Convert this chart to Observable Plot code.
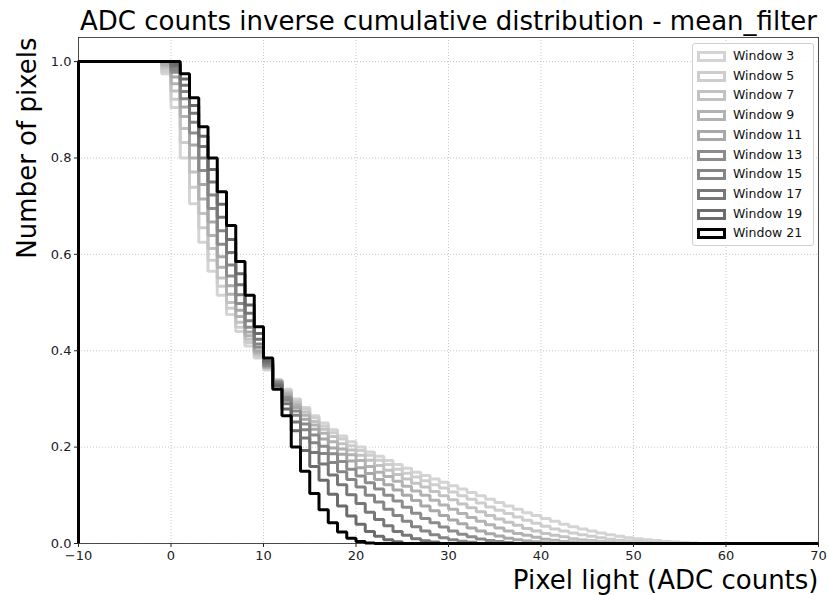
<!DOCTYPE html>
<html>
<head>
<meta charset="utf-8">
<script src="https://cdn.jsdelivr.net/npm/d3@7"></script>
<script src="https://cdn.jsdelivr.net/npm/@observablehq/plot@0.6"></script>
<style>
  html, body { margin: 0; padding: 0; background: #fff; }
  #wrap { position: relative; width: 829px; height: 595px; font-family: "DejaVu Sans", sans-serif; }
  #legend { position: absolute; left: 692px; top: 43px; width: 122px; height: 203px;
            border: 1px solid #d0d0d0; border-radius: 3px; background: rgba(255,255,255,0.85); box-sizing: border-box; }
  .lrow { position: absolute; left: 0; height: 14px; }
  .lpatch { position: absolute; left: 4px; top: 2px; width: 29px; height: 11px; box-sizing: border-box; border-style: solid; border-width: 3px; }
  .ltext { position: absolute; left: 40px; top: -1px; font-size: 12.5px; line-height: 16px; color: #111; white-space: nowrap; }
</style>
</head>
<body>
<div id="wrap"></div>
<script>
// ---- data ----
const titleText = "ADC counts inverse cumulative distribution - mean_filter";
const xLabelText = "Pixel light (ADC counts)";
const yLabelText = "Number of pixels";
const xTicks = [-10, 0, 10, 20, 30, 40, 50, 60, 70];
const yTicks = [0.0, 0.2, 0.4, 0.6, 0.8, 1.0];
const xDomain = [-10, 70];
const yDomain = [0, 1.05];
const firstBin = -1; // each level array starts with the bin [-1, 0); earlier bins are 1.0, later ones 0
const windowSizes = [3, 5, 7, 9, 11, 13, 15, 17, 19, 21];
const greys = ["#d4d4d4", "#cdcdcd", "#c2c2c2", "#b2b2b2", "#a8a8a8", "#8c8c8c", "#858585", "#777777", "#6b6b6b", "#000000"];

const w3 = [0.975, 0.905, 0.80, 0.705, 0.625, 0.565, 0.515, 0.475, 0.44, 0.41, 0.385, 0.36, 0.34, 0.32, 0.30, 0.282, 0.265, 0.25, 0.236, 0.223, 0.211, 0.2, 0.19, 0.181, 0.172, 0.164, 0.156, 0.148, 0.141, 0.134, 0.127, 0.12, 0.113, 0.106, 0.099, 0.092, 0.085, 0.078, 0.071, 0.064, 0.058, 0.052, 0.046, 0.04, 0.035, 0.03, 0.026, 0.022, 0.018, 0.015, 0.012, 0.01, 0.008, 0.006, 0.004, 0.003, 0.002, 0.001];
const w5 = [0.98, 0.922, 0.832, 0.739, 0.655, 0.588, 0.534, 0.488, 0.449, 0.417, 0.388, 0.363, 0.339, 0.318, 0.297, 0.279, 0.261, 0.244, 0.230, 0.217, 0.203, 0.193, 0.183, 0.173, 0.164, 0.154, 0.146, 0.138, 0.130, 0.122, 0.115, 0.107, 0.099, 0.092, 0.084, 0.076, 0.069, 0.062, 0.055, 0.048, 0.042, 0.036, 0.030, 0.026, 0.022, 0.018, 0.015, 0.012, 0.009, 0.007, 0.005, 0.004, 0.002, 0.001];
const w7 = [0.986, 0.939, 0.861, 0.771, 0.685, 0.612, 0.551, 0.50, 0.459, 0.424, 0.392, 0.364, 0.339, 0.315, 0.293, 0.273, 0.253, 0.237, 0.222, 0.207, 0.194, 0.183, 0.173, 0.162, 0.152, 0.143, 0.134, 0.125, 0.117, 0.108, 0.099, 0.091, 0.082, 0.074, 0.066, 0.058, 0.051, 0.044, 0.038, 0.031, 0.026, 0.021, 0.017, 0.014, 0.010, 0.008, 0.006, 0.004, 0.003, 0.001];
const w9 = [0.992, 0.954, 0.886, 0.80, 0.715, 0.639, 0.573, 0.517, 0.471, 0.431, 0.396, 0.365, 0.337, 0.312, 0.288, 0.266, 0.246, 0.229, 0.211, 0.196, 0.184, 0.172, 0.160, 0.148, 0.139, 0.129, 0.119, 0.109, 0.100, 0.090, 0.080, 0.071, 0.062, 0.054, 0.046, 0.039, 0.032, 0.026, 0.021, 0.017, 0.013, 0.009, 0.007, 0.004, 0.003, 0.0015];
const w11 = [0.997, 0.968, 0.906, 0.827, 0.745, 0.667, 0.595, 0.535, 0.484, 0.439, 0.40, 0.367, 0.336, 0.307, 0.282, 0.258, 0.237, 0.217, 0.198, 0.185, 0.171, 0.157, 0.145, 0.133, 0.122, 0.111, 0.100, 0.089, 0.078, 0.068, 0.058, 0.049, 0.041, 0.032, 0.026, 0.020, 0.0155, 0.011, 0.008, 0.005, 0.0034, 0.0017];
const w13 = [1.0, 0.978, 0.923, 0.852, 0.774, 0.695, 0.621, 0.555, 0.498, 0.449, 0.407, 0.369, 0.335, 0.303, 0.275, 0.248, 0.225, 0.202, 0.186, 0.170, 0.154, 0.140, 0.126, 0.113, 0.100, 0.088, 0.075, 0.063, 0.052, 0.043, 0.034, 0.026, 0.019, 0.014, 0.0095, 0.006, 0.004, 0.002];
const w15 = [1.0, 0.983, 0.938, 0.874, 0.80, 0.723, 0.649, 0.578, 0.516, 0.462, 0.414, 0.372, 0.333, 0.297, 0.266, 0.236, 0.209, 0.187, 0.168, 0.149, 0.133, 0.117, 0.100, 0.086, 0.071, 0.058, 0.046, 0.035, 0.026, 0.018, 0.012, 0.008, 0.0045, 0.0024];
const w17 = [1.0, 0.989, 0.951, 0.893, 0.824, 0.75, 0.677, 0.604, 0.537, 0.478, 0.424, 0.375, 0.330, 0.290, 0.252, 0.219, 0.189, 0.165, 0.142, 0.122, 0.101, 0.083, 0.065, 0.050, 0.037, 0.025, 0.017, 0.010, 0.0055, 0.003];
const w19 = [1.0, 0.994, 0.964, 0.909, 0.845, 0.776, 0.704, 0.631, 0.560, 0.495, 0.436, 0.379, 0.327, 0.279, 0.234, 0.193, 0.160, 0.131, 0.102, 0.078, 0.057, 0.040, 0.025, 0.015, 0.008, 0.0035];
const w21 = [1.0, 1.0, 0.975, 0.925, 0.865, 0.80, 0.73, 0.66, 0.585, 0.515, 0.45, 0.385, 0.32, 0.265, 0.20, 0.15, 0.104, 0.07, 0.043, 0.024, 0.011, 0.004, 0.001];
const seriesLevels = [w3, w5, w7, w9, w11, w13, w15, w17, w19, w21];

// ---- build step outlines (histogram "step" style, bins of width 1 from -10 to 70) ----
function stepPoints(levels) {
  const pts = [{x: xDomain[0], y: 0}];
  for (let k = xDomain[0]; k < xDomain[1]; k++) {
    const i = k - firstBin;
    const y = i < 0 ? 1 : (i < levels.length ? levels[i] : 0);
    pts.push({x: k, y});
  }
  pts.push({x: xDomain[1], y: 0});
  return pts;
}

const lineMarks = seriesLevels.map((lv, i) =>
  Plot.line(stepPoints(lv), {
    x: "x", y: "y", curve: "step-after",
    stroke: greys[i], strokeWidth: 3, strokeLinejoin: "miter", strokeLinecap: "butt"
  })
);

const chart = Plot.plot({
  width: 829, height: 595,
  marginLeft: 78, marginRight: 11, marginTop: 37, marginBottom: 52,
  x: {domain: xDomain},
  y: {domain: yDomain},
  style: {fontFamily: "DejaVu Sans", fontSize: "13px", color: "#000", background: "white", overflow: "visible"},
  marks: [
    Plot.gridX(xTicks, {stroke: "#b8b8b8", strokeOpacity: 1, strokeWidth: 0.8, strokeDasharray: "1,2"}),
    Plot.gridY(yTicks, {stroke: "#b8b8b8", strokeOpacity: 1, strokeWidth: 0.8, strokeDasharray: "1,2"}),
    Plot.frame({stroke: "#222", strokeWidth: 0.8}),
    ...lineMarks,
    Plot.axisX(xTicks, {tickSize: 4, tickPadding: 3, tickFormat: d3.format("d"), fontSize: 13, label: null, color: "#222"}),
    Plot.axisY(yTicks, {tickSize: 4, tickPadding: 3, tickFormat: d3.format(".1f"), fontSize: 13, label: null, color: "#222"}),
    Plot.text([titleText], {frameAnchor: "top", lineAnchor: "bottom", dy: -8, fontSize: 26, fill: "#000"}),
    Plot.text([xLabelText], {frameAnchor: "bottom-right", textAnchor: "end", lineAnchor: "bottom", dy: 45, fontSize: 26, fill: "#000"}),
    Plot.text([yLabelText], {frameAnchor: "top-left", rotate: -90, textAnchor: "end", lineAnchor: "bottom", dx: -43, fontSize: 26, fill: "#000"})
  ]
});

const wrap = document.getElementById("wrap");
wrap.appendChild(chart);

// ---- legend (inside the axes, upper right) ----
const legend = document.createElement("div");
legend.id = "legend";
windowSizes.forEach((w, i) => {
  const row = document.createElement("div");
  row.className = "lrow";
  row.style.top = (5 + i * 19.7) + "px";
  const patch = document.createElement("span");
  patch.className = "lpatch";
  patch.style.borderColor = greys[i];
  const txt = document.createElement("span");
  txt.className = "ltext";
  txt.textContent = "Window " + w;
  row.appendChild(patch);
  row.appendChild(txt);
  legend.appendChild(row);
});
wrap.appendChild(legend);
</script>
</body>
</html>
